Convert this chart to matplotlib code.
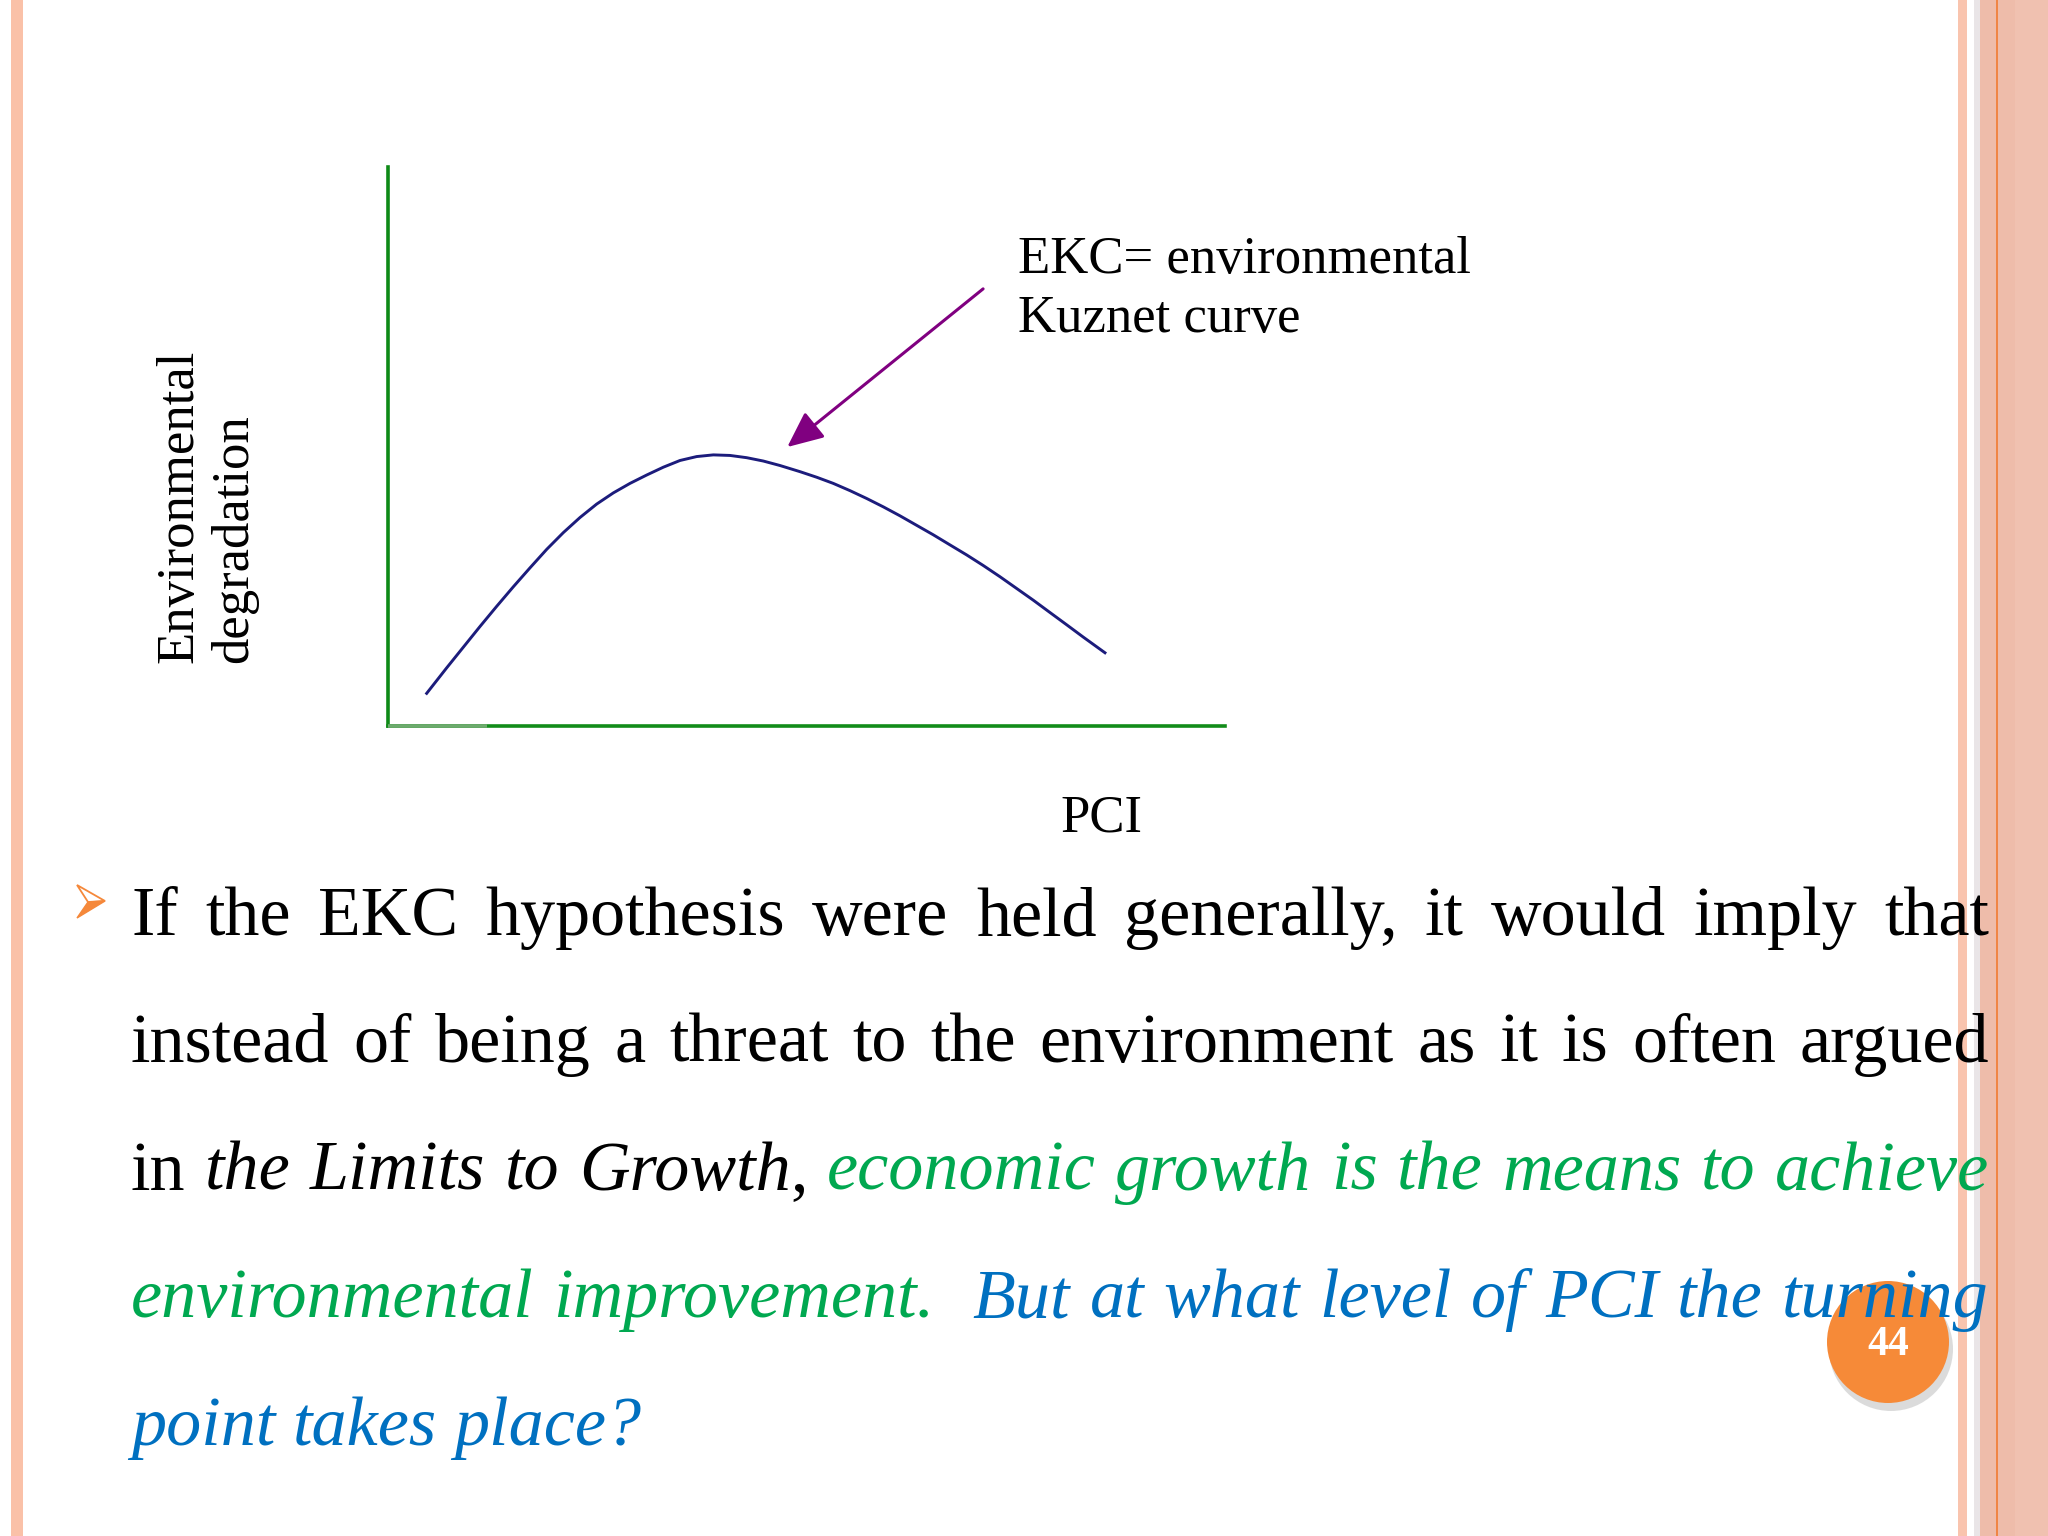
import re
import matplotlib
matplotlib.use('Agg')
import matplotlib.pyplot as plt
from matplotlib.patches import Rectangle, Circle, Polygon

# EKC curve (axis box spans 0..100 on both axes)
pci = [4.62, 7.01, 9.00, 10.99, 12.98, 14.97, 16.97, 18.96, 20.95, 22.94,
       24.93, 26.92, 28.91, 30.91, 32.90, 34.89, 36.88, 38.87, 40.86, 42.85,
       44.84, 46.83, 49.22, 51.22, 53.20, 55.20, 57.19, 59.18, 61.17, 63.16,
       65.15, 67.14, 69.14, 71.13, 73.12, 75.11, 77.10, 79.09, 81.09, 83.07,
       85.66]
degradation = [5.84, 10.4, 14.1, 17.8, 21.4, 24.9, 28.3, 31.6, 34.6, 37.3,
               39.7, 41.7, 43.4, 44.9, 46.3, 47.5, 48.2, 48.5, 48.4, 48.0,
               47.4, 46.6, 45.5, 44.5, 43.4, 42.1, 40.7, 39.2, 37.6, 35.9,
               34.2, 32.4, 30.6, 28.7, 26.7, 24.6, 22.5, 20.3, 18.1, 15.9,
               13.1]
arrow_tail = (71.1, 78.2)
arrow_tip = (47.7, 49.9)

ylabel_lines = ['Environmental', 'degradation']
xlabel = 'PCI'
callout = ['EKC= environmental', 'Kuznet curve']

K, G, B = '#000000', '#00A850', '#0070C0'
body = [
    [('If the EKC hypothesis were held generally, it would imply that', K, 'normal')],
    [('instead of being a threat to the environment as it is often argued', K, 'normal')],
    [('in ', K, 'normal'), ('the Limits to Growth', K, 'italic'), (', ', K, 'normal'),
     ('economic growth is the means to achieve', G, 'italic')],
    [('environmental improvement.  ', G, 'italic'),
     ('But at what level of PCI the turning', B, 'italic')],
    [('point takes place?', B, 'italic')],
]
page_no = '44'

SERIF = 'Liberation Serif'

fig = plt.figure(figsize=(20.48, 15.36), dpi=100)
fig.patch.set_facecolor('white')

# full-slide axes in pixel units (y downwards)
bg = fig.add_axes([0, 0, 1, 1])
bg.set_xlim(0, 2048)
bg.set_ylim(1536, 0)
bg.axis('off')

# slide borders
bg.add_patch(Rectangle((11, 0), 12, 1536, color='#FAC1A8', lw=0, zorder=1))
bg.add_patch(Rectangle((1958, 0), 9, 1536, color='#F9C4AE', lw=0, zorder=1))
bg.add_patch(Rectangle((1974, 0), 6, 1536, color='#E9E5E7', lw=0, zorder=1))
bg.add_patch(Rectangle((1980, 0), 68, 1536, color='#F0C1B0', lw=0, zorder=1))
bg.add_patch(Rectangle((1980, 0), 35, 1536, color='#EEBCAA', lw=0, zorder=1))
bg.add_patch(Rectangle((1995.5, 0), 2.5, 1536, color='#F08545', lw=0, zorder=1))

# page number badge
bg.add_patch(Circle((1891, 1349), 62, color='#9a9a9a', alpha=0.35, lw=0, zorder=2))
bg.add_patch(Circle((1888, 1342), 61, color='#F68A38', lw=0, zorder=2))
bg.text(1888, 1345, page_no, color='white', fontsize=30, fontweight='bold',
        family=SERIF, ha='center', va='center', zorder=2.5)

# bullet arrowhead
bg.add_patch(Polygon([(77, 885), (105, 901), (88, 902)], closed=True,
                     facecolor='white', edgecolor='#F5883A', lw=1.3, zorder=3))
bg.add_patch(Polygon([(88, 902), (105, 901), (77, 918)], closed=True,
                     facecolor='#F5883A', edgecolor='#F5883A', lw=1.0, zorder=3))

# chart
ax = fig.add_axes([388 / 2048, 1 - 726 / 1536, 837 / 2048, 559 / 1536])
ax.set_facecolor('none')
ax.set_xlim(0, 100)
ax.set_ylim(0, 100)
for side in ['top', 'right']:
    ax.spines[side].set_visible(False)
ax.spines['left'].set_color('#0E8A16')
ax.spines['bottom'].set_color('#128C1A')
ax.spines['left'].set_linewidth(2.6)
ax.spines['bottom'].set_linewidth(2.6)
ax.set_xticks([])
ax.set_yticks([])
ax.plot([0, 11.8], [0, 0], color='#6DAA6D', lw=2.6, clip_on=False,
        solid_capstyle='butt', zorder=3)
ax.plot(pci, degradation, color='#1C1C7C', lw=2.1, clip_on=False,
        solid_joinstyle='round')
ax.annotate('', xy=arrow_tip, xytext=arrow_tail,
            arrowprops=dict(arrowstyle='-|>,head_length=1.0,head_width=0.45',
                            color='#800080', lw=2.2, shrinkA=0, shrinkB=0,
                            mutation_scale=22))

# chart labels
chart_fs = 38
bg.text(1018, 273, callout[0], fontsize=chart_fs, family=SERIF, ha='left', va='baseline', zorder=3)
bg.text(1018, 332, callout[1], fontsize=chart_fs, family=SERIF, ha='left', va='baseline', zorder=3)
bg.text(1060, 832, xlabel, fontsize=chart_fs, family=SERIF, ha='left', va='baseline', zorder=3)
bg.text(192, 663, ylabel_lines[0], fontsize=chart_fs, family=SERIF, rotation=90,
        rotation_mode='anchor', ha='left', va='baseline', zorder=3)
bg.text(247, 663, ylabel_lines[1], fontsize=chart_fs, family=SERIF, rotation=90,
        rotation_mode='anchor', ha='left', va='baseline', zorder=3)

# body paragraph, justified
body_fs = 50.5
left, right = 131, 1989
baselines = [935, 1062, 1190, 1317, 1445]
renderer = fig.canvas.get_renderer()


def width(s, style):
    t = bg.text(0, 0, s, fontsize=body_fs, family=SERIF, style=style)
    w = t.get_window_extent(renderer=renderer).width
    t.remove()
    return w


space_w = width('a a', 'normal') - width('aa', 'normal')

for n, (segs, yb) in enumerate(zip(body, baselines)):
    words = []
    gap = 0
    for text, color, style in segs:
        for tok in re.split(r'( +)', text):
            if not tok:
                continue
            if tok.startswith(' '):
                gap += len(tok)
                continue
            piece = (tok, color, style, width(tok, style))
            if words and gap == 0:
                words[-1]['pieces'].append(piece)
            else:
                words.append({'gap': gap if words else 0, 'pieces': [piece]})
            gap = 0
    total = sum(p[3] for w in words for p in w['pieces'])
    gaps = sum(w['gap'] for w in words)
    if n < len(body) - 1:
        sp = (right - left - total) / gaps
    else:
        sp = space_w
    x = left
    for w in words:
        x += w['gap'] * sp
        for tok, color, style, pw in w['pieces']:
            bg.text(x, yb, tok, fontsize=body_fs, family=SERIF, style=style,
                    color=color, ha='left', va='baseline', zorder=4)
            x += pw

fig.savefig('out.png', dpi=100)
